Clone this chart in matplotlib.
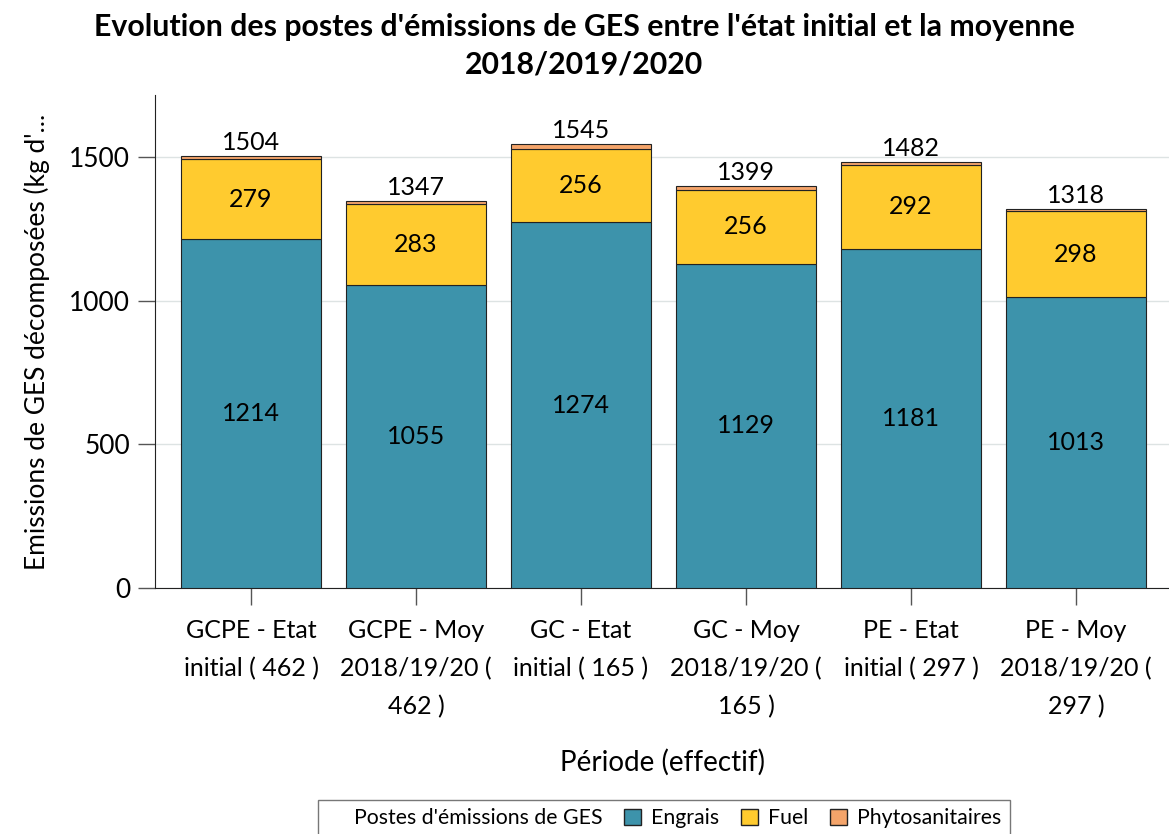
import matplotlib
matplotlib.use("Agg")
import matplotlib.pyplot as plt
import numpy as np
from matplotlib.patches import Rectangle

plt.rcParams['font.family'] = ['Lato', 'DejaVu Sans']

periods = ["GCPE - Etat\ninitial ( 462 )", "GCPE - Moy\n2018/19/20 (\n462 )",
           "GC - Etat\ninitial ( 165 )", "GC - Moy\n2018/19/20 (\n165 )",
           "PE - Etat\ninitial ( 297 )", "PE - Moy\n2018/19/20 (\n297 )"]
engrais = [1214, 1055, 1274, 1129, 1181, 1013]
fuel = [279, 283, 256, 256, 292, 298]
phyto = [11, 9, 15, 14, 9, 7]
totals = [1504, 1347, 1545, 1399, 1482, 1318]

c_engrais = '#3D93AB'
c_fuel = '#FFCB2F'
c_phyto = '#F4A46A'

fig = plt.figure(figsize=(11.69, 8.34), dpi=100)
ax = fig.add_axes([0.1326, 0.295, 0.8674, 0.591])

x = np.arange(len(periods))
w = 0.85
ax.bar(x, engrais, w, color=c_engrais, edgecolor='#222222', linewidth=0.8, zorder=3)
ax.bar(x, fuel, w, bottom=engrais, color=c_fuel, edgecolor='#222222', linewidth=0.8, zorder=3)
bot2 = np.array(engrais) + np.array(fuel)
ax.bar(x, phyto, w, bottom=bot2, color=c_phyto, edgecolor='#222222', linewidth=0.8, zorder=3)

for i in range(len(x)):
    ax.text(x[i], engrais[i] / 2, str(engrais[i]), ha='center', va='center', fontsize=18, zorder=4)
    ax.text(x[i], engrais[i] + fuel[i] / 2, str(fuel[i]), ha='center', va='center', fontsize=18, zorder=4)
    ax.text(x[i], totals[i] + 8, str(totals[i]), ha='center', va='bottom', fontsize=18, zorder=4)

ax.set_xlim(-0.582, 5.564)
ax.set_ylim(0, 1716)
ax.set_yticks([0, 500, 1000, 1500])
ax.set_xticks(x)
ax.set_xticklabels(periods, fontsize=18, linespacing=1.78)
ax.tick_params(axis='y', labelsize=19, length=12, width=1, color='#555555', pad=6)
ax.tick_params(axis='x', length=12, width=1, color='#555555', pad=10)
ax.grid(axis='y', color='#dde3e3', linewidth=1, zorder=0)
for s in ['top', 'right']:
    ax.spines[s].set_visible(False)
ax.spines['left'].set_color('#222222')
ax.spines['bottom'].set_color('#222222')

ax.set_xlabel("Période (effectif)", fontsize=20, labelpad=22)
ax.set_ylabel("Emissions de GES décomposées (kg d'...", fontsize=19, labelpad=14)
fig.text(0.5, 0.985, "Evolution des postes d'émissions de GES entre l'état initial et la moyenne\n2018/2019/2020",
         ha='center', va='top', fontsize=21.8, fontweight='bold', linespacing=1.45)

handles = [Rectangle((0, 0), 1, 1, fill=False, edgecolor='none'),
           Rectangle((0, 0), 1, 1, facecolor=c_engrais, edgecolor='#222222'),
           Rectangle((0, 0), 1, 1, facecolor=c_fuel, edgecolor='#222222'),
           Rectangle((0, 0), 1, 1, facecolor=c_phyto, edgecolor='#222222')]
labels = ["Postes d'émissions de GES", "Engrais", "Fuel", "Phytosanitaires"]
leg = fig.legend(handles, labels, loc='lower center', bbox_to_anchor=(0.568, -0.016), ncol=4,
                 fontsize=15.3, frameon=True, fancybox=False, edgecolor='#555555',
                 handlelength=0.8, handleheight=0.8, handletextpad=0.5, columnspacing=1.0,
                 borderpad=0.4)
leg.get_frame().set_linewidth(1)

fig.savefig("out.png", dpi=100)
